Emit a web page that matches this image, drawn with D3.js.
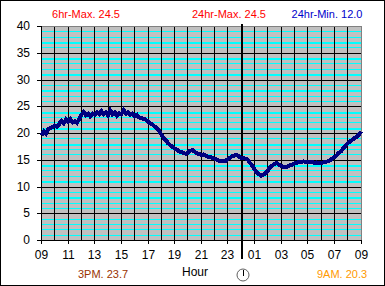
<!DOCTYPE html>
<html>
<head>
<meta charset="utf-8">
<script src="https://d3js.org/d3.v7.min.js"></script>
<style>
html, body { margin: 0; padding: 0; background: #fff; overflow: hidden; }
svg { display: block; }
text { font-family: "Liberation Sans", Arial, sans-serif; }
.axis path { display: none; }
.axis text { font-size: 12px; fill: #000; }
</style>
</head>
<body>
<svg width="385" height="286"></svg>
<script>
// readings every 10 minutes, one row per hour, starting at 09
var temps = [
  19.6, 20.3, 19.9, 20.7, 20.9, 21.1,
  21.4, 21.2, 21.7, 22.3, 21.8, 22.5,
  22.1, 22.6, 22.0, 22.2, 21.9, 22.6,
  23.4, 23.9, 23.3, 23.6, 23.1, 23.6,
  23.4, 23.9, 23.5, 24.1, 23.5, 23.9,
  23.3, 24.2, 23.5, 23.9, 23.2, 23.7,
  23.5, 24.3, 23.6, 23.9, 23.4, 23.6,
  23.1, 23.4, 22.9, 22.8, 22.6, 22.5,
  22.1, 21.8, 21.6, 21.2, 20.9, 20.4,
  19.7, 19.1, 18.7, 18.1, 17.7, 17.4,
  17.1, 16.9, 16.6, 16.4, 16.3, 16.1,
  16.3, 16.7, 16.8, 16.5, 16.2, 16.1,
  15.9, 16.0, 15.8, 15.6, 15.6, 15.3,
  15.2, 15.0, 14.8, 14.7, 14.7, 14.8,
  15.1, 15.4, 15.7, 15.8, 15.9, 15.6,
  15.4, 15.3, 15.2, 15.0, 14.4, 13.9,
  13.2, 12.7, 12.3, 12.0, 12.2, 12.5,
  13.0, 13.6, 13.9, 14.2, 14.4, 14.1,
  13.9, 13.7, 13.6, 13.8, 14.0, 14.1,
  14.3, 14.4, 14.6, 14.5, 14.7, 14.6,
  14.6, 14.5, 14.6, 14.4, 14.5, 14.4,
  14.4, 14.5, 14.6, 14.7, 14.9, 15.2,
  15.5, 15.8, 16.3, 16.6, 17.1, 17.6,
  18.1, 18.4, 18.7, 19.0, 19.3, 19.6,
  20.3
];
var stepHours = 24 / (temps.length - 1);
var hourLabels = ["09","10","11","12","13","14","15","16","17","18","19","20","21","22","23","00","01","02","03","04","05","06","07","08","09"];
var yTicks = [0, 5, 10, 15, 20, 25, 30, 35, 40];
var minorLines = [1,2,3,4,6,7,8,9,11,12,13,14,16,17,18,19,21,22,23,24,26,27,28,29,31,32,33,34,36,37,38,39];
var heavyLines = [8, 11, 14, 18, 21, 24, 28, 31, 34, 37];
var captions = ["6hr-Max. 24.5", "24hr-Max. 24.5", "24hr-Min. 12.0", "3PM. 23.7", "9AM. 20.3"];

var svg = d3.select("svg"),
    margin = {top: 26, bottom: 46},
    height = +svg.attr("height") - margin.top - margin.bottom;

var x = d3.scaleLinear().domain([0, 24]).range([41.5, 361]),
    y = d3.scaleLinear().domain([0, 40]).range([margin.top + height, margin.top]);

// snap to the pixel grid
function px(d) { return Math.floor(x(d)) + 0.5; }
function py(d) { return Math.round(y(d)) + 0.5; }

// page frame
svg.append("rect")
    .attr("x", 0.5).attr("y", 0.5)
    .attr("width", 384).attr("height", 285)
    .attr("fill", "#fff").attr("stroke", "#000");

// plot background
svg.append("rect")
    .attr("x", 42).attr("y", y(40))
    .attr("width", x(24) - 42).attr("height", height)
    .attr("fill", "#c0c0c0");

// cyan minor lines
svg.selectAll(".minor")
  .data(minorLines)
  .enter().append("line")
    .attr("class", "minor")
    .attr("x1", x(0)).attr("x2", x(24))
    .attr("y1", py).attr("y2", py)
    .attr("stroke", "#00ffff")
    .attr("stroke-width", function(d) { return heavyLines.indexOf(d) >= 0 ? 2 : 1; })
    .attr("shape-rendering", "crispEdges");

// black grid
svg.selectAll(".hgrid")
  .data(yTicks)
  .enter().append("line")
    .attr("class", "hgrid")
    .attr("x1", x(0)).attr("x2", x(24))
    .attr("y1", py).attr("y2", py)
    .attr("stroke", "#000");

svg.selectAll(".vgrid")
  .data(d3.range(0, 24))
  .enter().append("line")
    .attr("class", "vgrid")
    .attr("x1", px).attr("x2", px)
    .attr("y1", y(40)).attr("y2", y(0))
    .attr("stroke", "#000");

// gray top and right edge
svg.append("path")
    .attr("d", "M" + x(0) + "," + (y(40) + 0.5) + "H" + (x(24) + 0.5) + "V" + y(0))
    .attr("fill", "none")
    .attr("stroke", "#808080")
    .attr("shape-rendering", "crispEdges");

// axes
var yAxis = d3.axisLeft(y).tickValues(yTicks).tickSize(5).tickPadding(7);
svg.append("g")
    .attr("class", "axis")
    .attr("transform", "translate(42,0)")
    .call(yAxis)
    .call(function(g) {
      g.selectAll("line").attr("stroke", "#000");
      g.selectAll(".tick").attr("transform", function(d) { return "translate(0," + py(d) + ")"; });
    });

var xAxis = d3.axisBottom(x)
    .tickValues(d3.range(0, 25, 2))
    .tickSize(4)
    .tickPadding(6)
    .tickFormat(function(d) { return hourLabels[d]; });
svg.append("g")
    .attr("class", "axis")
    .attr("transform", "translate(0," + (margin.top + height) + ")")
    .call(xAxis)
    .call(function(g) {
      g.selectAll("line").attr("stroke", "#000");
      g.selectAll(".tick").attr("transform", function(d) { return "translate(" + px(d) + ",0)"; });
    });

// midnight marker
svg.append("line")
    .attr("x1", Math.ceil(x(15))).attr("x2", Math.ceil(x(15)))
    .attr("y1", y(40) - 2).attr("y2", y(0) + 19)
    .attr("stroke", "#000")
    .attr("stroke-width", 2);

// temperature trace
var line = d3.line()
    .x(function(d, i) { return x(i * stepHours); })
    .y(function(d) { return y(d); });

svg.append("path")
    .datum(temps)
    .attr("fill", "none")
    .attr("stroke", "#000080")
    .attr("stroke-width", 4)
    .attr("shape-rendering", "crispEdges")
    .attr("d", line);

// captions
function caption(txt, cx, cy, colour) {
  svg.append("text")
      .attr("x", cx).attr("y", cy)
      .attr("text-anchor", "middle")
      .attr("font-size", 11)
      .attr("fill", colour)
      .text(txt);
}
caption(captions[0], 86, 18, "#ff0000");
caption(captions[1], 229, 18, "#ff0000");
caption(captions[2], 327, 18, "#0000cc");
caption(captions[3], 103, 278, "#993300");
caption(captions[4], 342, 278, "#ff9900");

svg.append("text")
    .attr("x", 195).attr("y", 276)
    .attr("text-anchor", "middle")
    .attr("font-size", 12)
    .attr("fill", "#000")
    .text("Hour");

// clock icon
svg.append("circle")
    .attr("cx", 243).attr("cy", 275).attr("r", 6)
    .attr("fill", "#fff")
    .attr("stroke", "#606060")
    .attr("stroke-width", 1);
svg.append("line")
    .attr("x1", 243.5).attr("x2", 243.5)
    .attr("y1", 270).attr("y2", 276)
    .attr("stroke", "#000");
</script>
</body>
</html>
